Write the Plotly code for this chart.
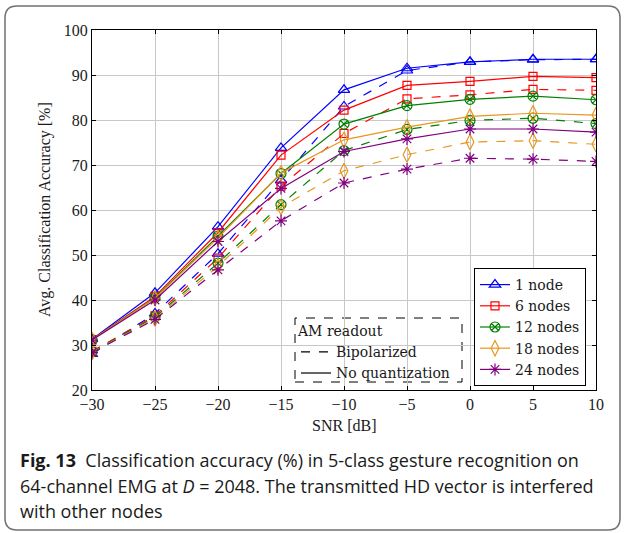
import plotly.graph_objects as go

# ---------------- data ----------------
snr = [-30, -25, -20, -15, -10, -5, 0, 5, 10]
labels = ["1 node", "6 nodes", "12 nodes", "18 nodes", "24 nodes"]

noq_1 = [31.3, 41.6, 56.3, 73.8, 86.7, 91.5, 92.9, 93.5, 93.5]
noq_6 = [31.2, 40.8, 55.0, 72.2, 82.2, 87.7, 88.6, 89.7, 89.4]
noq_12 = [31.2, 40.5, 54.2, 68.1, 79.1, 83.2, 84.6, 85.3, 84.5]
noq_18 = [31.2, 40.4, 53.8, 68.2, 75.6, 78.4, 80.8, 81.5, 81.1]
noq_24 = [31.1, 40.0, 53.0, 64.8, 73.0, 75.8, 78.0, 78.0, 77.3]

bip_1 = [28.0, 37.0, 50.3, 66.6, 83.0, 91.0, 92.9, 93.4, 93.5]
bip_6 = [28.6, 36.5, 49.3, 65.3, 77.0, 84.7, 85.6, 86.8, 86.6]
bip_12 = [28.5, 36.2, 48.2, 61.2, 73.2, 77.9, 79.9, 80.4, 79.2]
bip_18 = [28.4, 35.9, 47.5, 60.6, 68.7, 72.3, 75.1, 75.4, 74.6]
bip_24 = [28.3, 35.7, 46.7, 57.6, 66.0, 69.1, 71.5, 71.3, 70.8]

x_ticks = [-30, -25, -20, -15, -10, -5, 0, 5, 10]
y_ticks = [20, 30, 40, 50, 60, 70, 80, 90, 100]

noq = [noq_1, noq_6, noq_12, noq_18, noq_24]
bip = [bip_1, bip_6, bip_12, bip_18, bip_24]

# ---------------- style ----------------
colors = ["#0000ff", "#ff0000", "#008000", "#e8961e", "#800080"]
symbols = ["triangle-up-open", "square-open", "circle-x-open", "diamond-tall-open", "asterisk-open"]
sizes = [10, 8, 10, 11, 10]
SERIF = "Liberation Serif"
LEGSERIF = "DejaVu Serif"
TXT = "#1a1a1a"

W, H = 624, 533
L, R, T, B = 92, 596, 30, 390


def px(x):
    return (x - L) / (R - L)


def py(y):
    return (B - y) / (B - T)


fig = go.Figure()

for i in range(5):
    fig.add_trace(go.Scatter(
        x=snr, y=bip[i], mode="lines+markers",
        line=dict(color=colors[i], width=1.2, dash="dash"),
        marker=dict(symbol=symbols[i], size=sizes[i], color=colors[i],
                    line=dict(color=colors[i], width=1.2)),
        showlegend=False, hoverinfo="skip"))

for i in range(5):
    fig.add_trace(go.Scatter(
        x=snr, y=noq[i], mode="lines+markers", name=labels[i],
        line=dict(color=colors[i], width=1.2),
        marker=dict(symbol=symbols[i], size=sizes[i], color=colors[i],
                    line=dict(color=colors[i], width=1.2)),
        legend="legend"))

fig.add_trace(go.Scatter(x=[None], y=[None], mode="lines", name="Bipolarized",
                         line=dict(color="black", width=1.2, dash="dash"), legend="legend2"))
fig.add_trace(go.Scatter(x=[None], y=[None], mode="lines", name="No quantization",
                         line=dict(color="black", width=1.2), legend="legend2"))

axis_common = dict(
    showgrid=True, gridcolor="#c8c8c8", gridwidth=1,
    showline=True, linecolor="black", linewidth=1.2, mirror="ticks",
    ticks="inside", ticklen=4, tickcolor="black", tickwidth=1,
    zeroline=False, tickfont=dict(family=SERIF, size=16, color=TXT),
)

fig.update_xaxes(range=[-30, 10], tickvals=x_ticks, **axis_common)
fig.update_yaxes(range=[20, 100], tickvals=y_ticks, **axis_common)

# rounded outer frame
x0, x1, y0, y1, r = 5, 620, 6, 530, 12
pts = [
    ("M", x0 + r, y0), ("L", x1 - r, y0), ("Q", x1, y0, x1, y0 + r),
    ("L", x1, y1 - r), ("Q", x1, y1, x1 - r, y1), ("L", x0 + r, y1),
    ("Q", x0, y1, x0, y1 - r), ("L", x0, y0 + r), ("Q", x0, y0, x0 + r, y0),
]
path = ""
for p in pts:
    cmd = p[0]
    coords = p[1:]
    s = " ".join(f"{px(coords[k]):.5f},{py(coords[k + 1]):.5f}" for k in range(0, len(coords), 2))
    path += f"{cmd} {s} "
path += "Z"

shapes = [
    dict(type="path", xref="paper", yref="paper", path=path,
         line=dict(color="#707070", width=1.5), layer="below"),
    dict(type="rect", xref="paper", yref="paper",
         x0=px(295), x1=px(462), y0=py(382), y1=py(318),
         line=dict(color="black", width=1, dash="dash"), fillcolor="white", layer="below"),
]

CAP = dict(family="Open Sans", size=18, color=TXT)
annotations = [
    dict(text="Avg. Classification Accuracy [%]", xref="paper", yref="paper",
         x=px(45), y=py(210), textangle=-90, showarrow=False,
         font=dict(family=SERIF, size=16, color=TXT), xanchor="center", yanchor="middle"),
    dict(text="SNR [dB]", xref="paper", yref="paper", x=px(344), y=py(425),
         showarrow=False, font=dict(family=SERIF, size=16, color=TXT),
         xanchor="center", yanchor="middle"),
    dict(text="<b>Fig. 13</b>  Classification accuracy (%) in 5-class gesture recognition on",
         xref="paper", yref="paper", x=px(18), y=py(460), showarrow=False,
         font=CAP, xanchor="left", yanchor="middle"),
    dict(text="64-channel EMG at <i>D</i> = 2048. The transmitted HD vector is interfered",
         xref="paper", yref="paper", x=px(18), y=py(486), showarrow=False,
         font=CAP, xanchor="left", yanchor="middle"),
    dict(text="with other nodes",
         xref="paper", yref="paper", x=px(18), y=py(511), showarrow=False,
         font=CAP, xanchor="left", yanchor="middle"),
]

fig.update_layout(
    width=W, height=H,
    margin=dict(l=L, r=W - R, t=T, b=H - B, autoexpand=False),
    paper_bgcolor="white", plot_bgcolor="white",
    shapes=shapes, annotations=annotations,
    legend=dict(x=px(474), y=py(268), xanchor="left", yanchor="top",
                bgcolor="white", bordercolor="black", borderwidth=1,
                font=dict(family=LEGSERIF, size=14, color=TXT),
                itemwidth=30, tracegroupgap=0),
    legend2=dict(x=px(296), y=py(318), xanchor="left", yanchor="top",
                 bgcolor="rgba(0,0,0,0)", borderwidth=0,
                 title=dict(text="AM readout", font=dict(family=LEGSERIF, size=14, color=TXT)),
                 font=dict(family=LEGSERIF, size=14, color=TXT),
                 itemwidth=30),
)

fig.write_html("out.html")
